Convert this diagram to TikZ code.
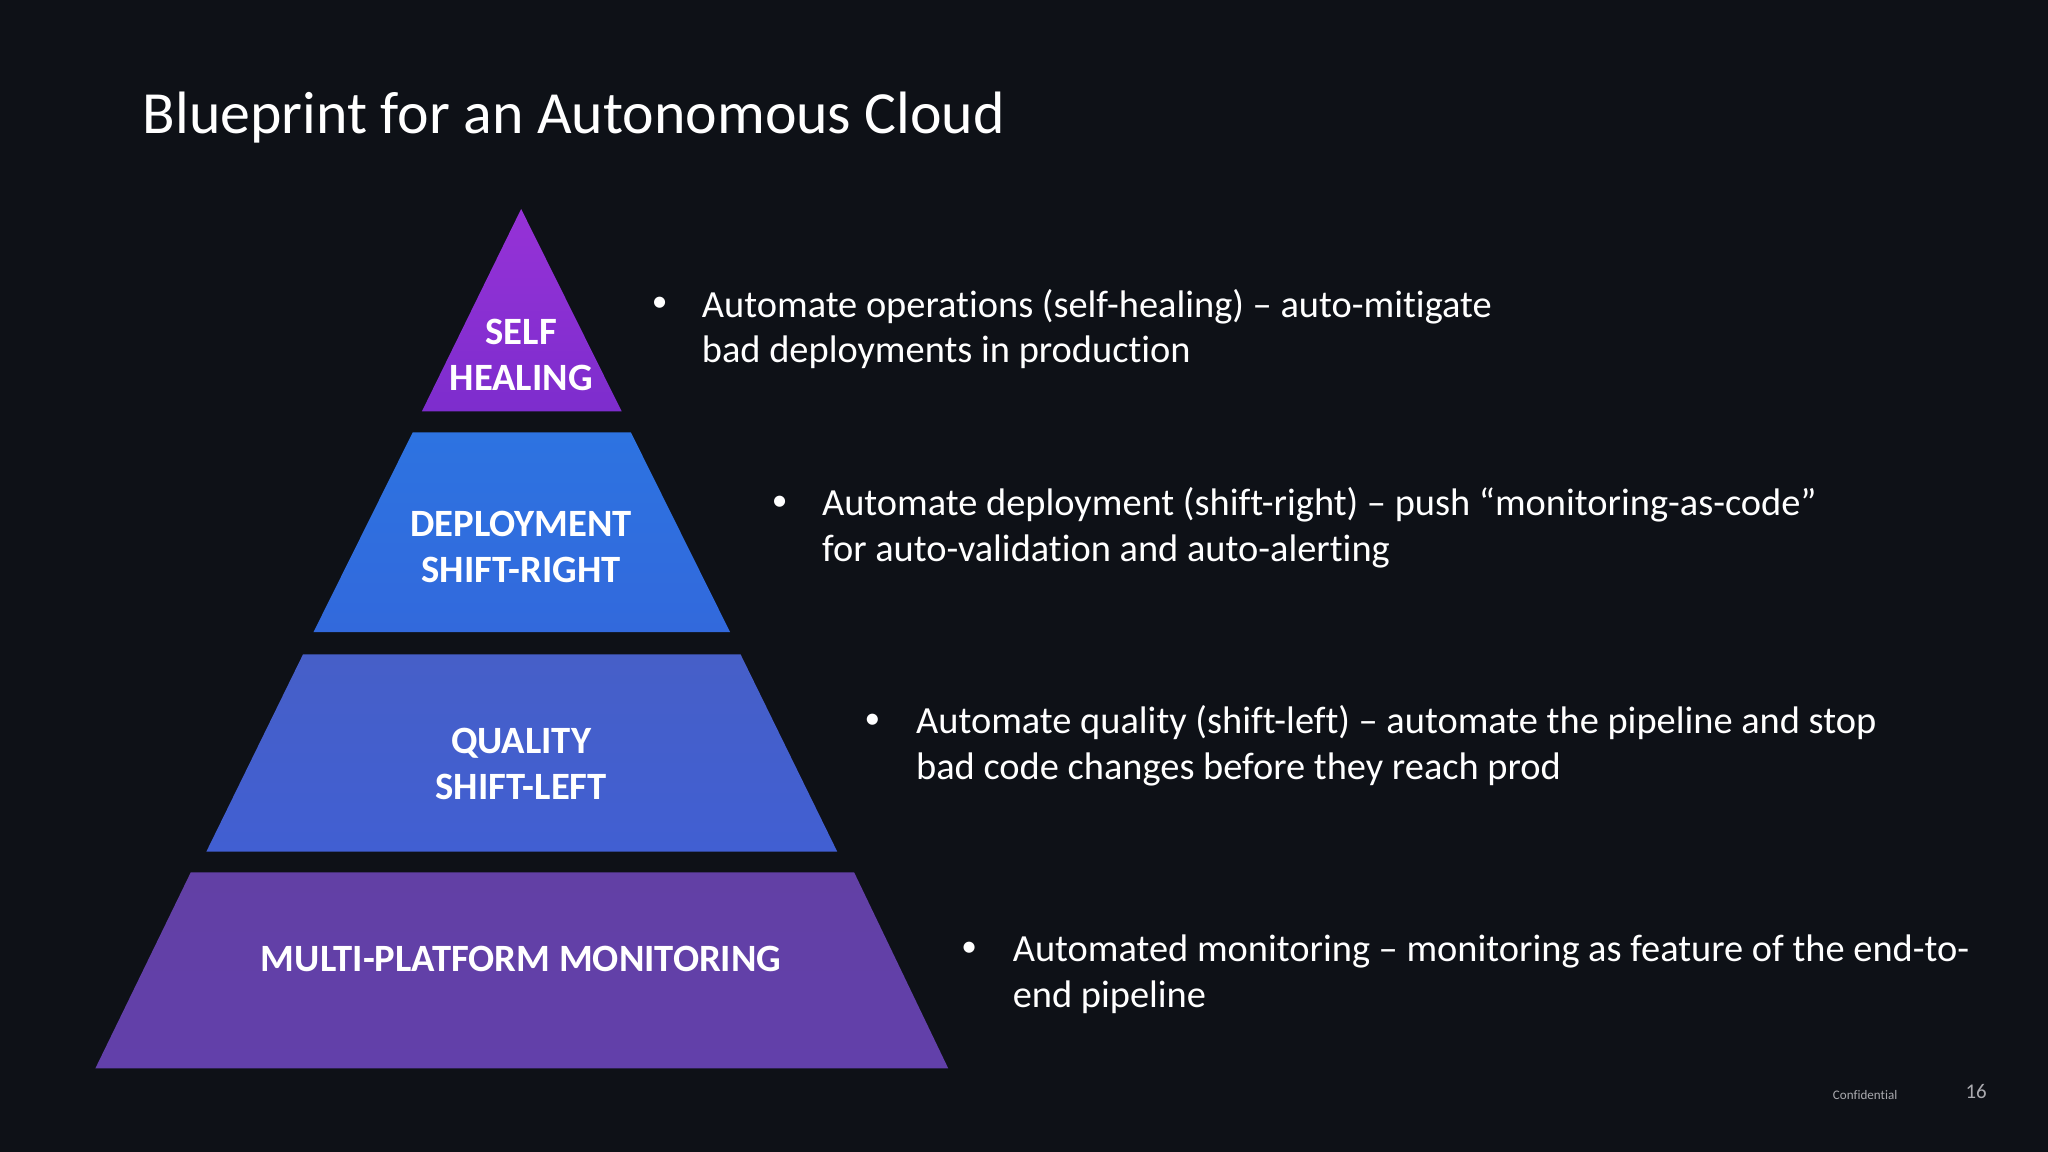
\documentclass[tikz,border=0pt]{standalone}
\usepackage{fontspec}
\setmainfont{Carlito}[Ligatures={NoCommon,NoRare}]
\begin{document}
\begin{tikzpicture}[x=0.5pt,y=-0.5pt,
  lbl/.style={text=white,font=\fontsize{14.8}{17.5}\selectfont\bfseries,align=center,inner sep=0},
  bul/.style={text=white,font=\fontsize{14.7}{17.5}\selectfont,align=left,anchor=west,inner sep=0},
  dot/.style={text=white,font=\fontsize{12}{17.5}\selectfont,inner sep=0}]
\definecolor{bg}{RGB}{14,17,23}
\fill[bg] (0,0) rectangle (1568,882);
\useasboundingbox (0,0) rectangle (1568,882);
\node[anchor=west,text=white,font=\fontsize{22.9}{28}\selectfont,inner sep=0] (title) at (109,90) {Blueprint for an Autonomous Cloud};
\shade[top color={rgb,255:red,150;green,50;blue,215},bottom color={rgb,255:red,125;green,45;blue,205}] (399,160) -- (476,315) -- (323,315) -- cycle;
\shade[top color={rgb,255:red,45;green,115;blue,225},bottom color={rgb,255:red,50;green,105;blue,220}] (316,331) -- (483,331) -- (559,484) -- (240,484) -- cycle;
\shade[top color={rgb,255:red,70;green,95;blue,200},bottom color={rgb,255:red,65;green,95;blue,210}] (232,501) -- (567,501) -- (641,652) -- (158,652) -- cycle;
\shade[top color={rgb,255:red,98;green,64;blue,165},bottom color={rgb,255:red,98;green,64;blue,170}] (146,668) -- (654,668) -- (726,818) -- (73,818) -- cycle;
\node[lbl] (l1) at (399,272) {SELF\\HEALING};
\node[lbl] (l2) at (399,419) {DEPLOYMENT\\SHIFT-RIGHT};
\node[lbl] (l3) at (399,585) {QUALITY\\SHIFT-LEFT};
\node[lbl] (l4) at (399,734) {MULTI-PLATFORM MONITORING};
\node[dot] (d1) at (505,233) {•};
\node[bul] (b1) at (537,252) {Automate operations (self-healing) – auto-mitigate\\bad deployments in production};
\node[dot] (d2) at (597,385) {•};
\node[bul] (b2) at (629,404) {Automate deployment (shift-right) – push “monitoring-as-code”\\for auto-validation and auto-alerting};
\node[dot] (d3) at (668,552) {•};
\node[bul] (b3) at (701,571) {Automate quality (shift-left) – automate the pipeline and stop\\bad code changes before they reach prod};
\node[dot] (d4) at (742,727) {•};
\node[bul] (b4) at (775,746) {Automated monitoring – monitoring as feature of the end-to-\\end pipeline};
\node[text={rgb,255:red,170;green,170;blue,175},font=\fontsize{5}{6}\selectfont,inner sep=0] (conf) at (1428,838) {Confidential};
\node[text={rgb,255:red,170;green,170;blue,175},font=\fontsize{8}{9}\selectfont,inner sep=0] (pg) at (1513,836) {16};
\end{tikzpicture}
\end{document}
